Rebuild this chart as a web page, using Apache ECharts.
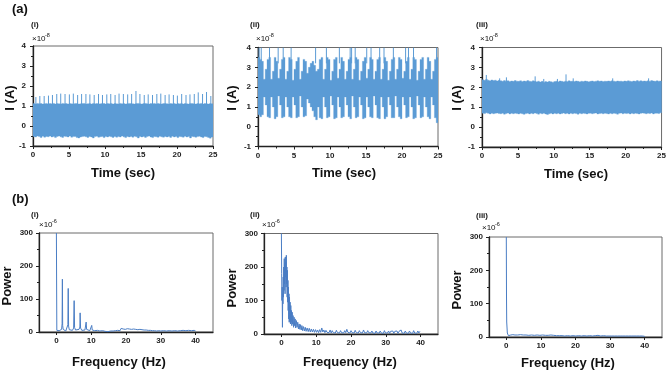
<!DOCTYPE html>
<html><head><meta charset="utf-8">
<script src="https://cdn.jsdelivr.net/npm/echarts@6/dist/echarts.min.js"></script>
<style>html,body{margin:0;padding:0;background:#fff}#c{width:669px;height:373px}</style>
</head><body><div id="c"></div>
<script>
// ---------- DATA ----------
const BIN = 0.25; // seconds per envelope bin
const timeTicks = [0, 5, 10, 15, 20, 25];
const freqTicks = [0, 10, 20, 30, 40];
const currentTicks = [-1, 0, 1, 2, 3, 4];
const powerTicks = [0, 100, 200, 300];

// (a)(i) envelope (x1e-8 A)
const hiA1 = [1.12,1.10,1.13,1.11,1.12,1.10,1.11,1.13,1.10,1.12,
1.11,1.13,1.10,1.12,1.11,1.10,1.13,1.11,1.12,1.10,
1.12,1.11,1.10,1.13,1.12,1.10,1.11,1.12,1.13,1.10,
1.11,1.12,1.10,1.13,1.11,1.12,1.10,1.11,1.13,1.12,
1.10,1.12,1.11,1.13,1.10,1.12,1.11,1.10,1.13,1.11,
1.12,1.10,1.11,1.13,1.12,1.11,1.10,1.12,1.13,1.11,
1.10,1.12,1.13,1.11,1.10,1.12,1.11,1.13,1.10,1.12,
1.11,1.10,1.12,1.13,1.11,1.10,1.12,1.11,1.13,1.10,
1.12,1.11,1.13,1.10,1.12,1.11,1.10,1.13,1.12,1.11,
1.10,1.12,1.11,1.13,1.10,1.12,1.11,1.10,1.12,1.11];
const loA1 = [-0.52,-0.55,-0.50,-0.53,-0.58,-0.51,-0.56,-0.52,-0.54,-0.50,
-0.55,-0.53,-0.58,-0.52,-0.50,-0.54,-0.57,-0.51,-0.53,-0.55,
-0.50,-0.56,-0.53,-0.52,-0.58,-0.60,-0.55,-0.53,-0.51,-0.54,
-0.57,-0.52,-0.55,-0.60,-0.53,-0.51,-0.56,-0.54,-0.52,-0.58,
-0.53,-0.55,-0.51,-0.54,-0.57,-0.52,-0.56,-0.53,-0.55,-0.50,
-0.54,-0.58,-0.52,-0.55,-0.53,-0.56,-0.51,-0.54,-0.60,-0.52,
-0.55,-0.52,-0.57,-0.53,-0.50,-0.55,-0.58,-0.52,-0.54,-0.56,
-0.51,-0.54,-0.56,-0.52,-0.55,-0.53,-0.57,-0.51,-0.55,-0.53,
-0.58,-0.52,-0.54,-0.56,-0.51,-0.55,-0.53,-0.60,-0.52,-0.54,
-0.56,-0.53,-0.51,-0.55,-0.58,-0.52,-0.54,-0.57,-0.61,-0.55];
const spikeTA1 = [0.4,0.95,1.55,2.15,2.7,3.3,3.85,4.45,5.05,5.6,6.2,6.75,7.35,7.9,8.5,9.1,9.65,10.25,10.8,11.4,11.95,12.55,13.15,13.7,14.3,14.85,15.45,16.0,16.6,17.2,17.75,18.35,18.9,19.5,20.05,20.65,21.25,21.8,22.4,22.95,23.55,24.1,24.7];
const spikeHA1 = [1.45,1.5,1.5,1.52,1.55,1.6,1.62,1.6,1.58,1.62,1.55,1.6,1.6,1.58,1.55,1.6,1.55,1.58,1.6,1.55,1.62,1.6,1.58,1.6,1.75,1.6,1.55,1.58,1.55,1.6,1.62,1.55,1.58,1.55,1.52,1.6,1.55,1.58,1.6,1.68,1.6,1.7,1.5];

// (a)(ii) envelope
const hiA2 = [3.5,3.4,3.3,2.4, 2.9,3.4,3.5,2.4, 2.8,3.5,3.3,2.45, 2.9,3.4,3.5,2.4, 2.8,3.5,3.4,2.35,
2.9,3.3,3.5,2.4, 2.8,3.4,3.3,2.7, 3.0,3.2,3.3,3.1, 2.8,2.9,3.4,3.5, 2.4,2.9,3.5,3.4,
2.35,2.8,3.4,3.5, 2.45,2.9,3.5,3.3, 2.4,2.8,3.4,3.5, 2.4,2.9,3.5,3.4, 2.35,2.8,3.3,3.5,
2.45,2.9,3.5,3.4, 2.4,2.8,3.4,3.5, 2.4,2.9,3.5,3.3, 2.35,2.8,3.4,3.5, 2.4,2.9,3.5,3.4,
2.45,2.8,3.3,3.5, 2.4,2.9,3.5,3.4, 2.35,2.8,3.4,3.5, 2.4,2.9,3.5,3.3, 2.4,2.8,3.4,3.5];
const loA2 = [0.6,0.5,0.6,1.5, 1.1,0.5,0.45,1.5, 1.0,0.4,0.5,1.55, 1.1,0.45,0.5,1.5, 1.0,0.5,0.45,1.5,
1.1,0.45,0.5,1.55, 1.0,0.5,0.55,1.4, 1.2,1.0,0.8,0.5, 0.35,1.0,0.45,0.4, 1.5,1.0,0.45,0.5,
1.55,1.1,0.4,0.45, 1.5,1.0,0.45,0.5, 1.5,1.1,0.5,0.4, 1.55,1.0,0.45,0.5, 1.5,1.1,0.4,0.45,
1.5,1.0,0.5,0.45, 1.55,1.1,0.45,0.4, 1.5,1.0,0.4,0.5, 1.5,1.1,0.45,0.45, 1.55,1.0,0.5,0.4,
1.5,1.1,0.45,0.5, 1.5,1.0,0.4,0.45, 1.55,1.1,0.45,0.5, 1.5,1.0,0.5,0.4, 1.5,1.1,0.45,0.2];
const spikeTA2 = [0.15,0.45,1.6,2.8,3.5,4.6,8.0,9.5,11.3,12.8,13.0,13.5,15.1,15.7,16.9,17.5,18.8,20.5,20.9,21.6,24.8];
const spikeHA2 = [4,4,4,4,4,4,4,4,4,4,4,4,4,4,4,4,4,4,4,4,4];

// (a)(iii) envelope
const hiA3 = [2.38,2.35,2.40,2.36,2.33,2.37,2.34,2.36,2.32,2.35,
2.33,2.30,2.34,2.31,2.33,2.29,2.32,2.30,2.34,2.31,
2.30,2.33,2.29,2.32,2.30,2.34,2.31,2.29,2.33,2.30,
2.28,2.31,2.27,2.30,2.26,2.29,2.27,2.30,2.28,2.26,
2.29,2.31,2.28,2.32,2.30,2.28,2.31,2.29,2.33,2.30,
2.31,2.29,2.32,2.30,2.28,2.31,2.29,2.32,2.30,2.28,
2.30,2.32,2.29,2.31,2.33,2.30,2.32,2.29,2.31,2.30,
2.32,2.30,2.33,2.31,2.29,2.32,2.30,2.31,2.29,2.32,
2.30,2.33,2.31,2.29,2.32,2.30,2.34,2.31,2.33,2.30,
2.32,2.30,2.33,2.31,2.34,2.32,2.30,2.33,2.31,2.32];
const loA3 = [0.70,0.68,0.72,0.69,0.66,0.70,0.67,0.69,0.71,0.68,
0.67,0.70,0.65,0.68,0.71,0.66,0.69,0.67,0.70,0.68,
0.66,0.69,0.67,0.64,0.68,0.70,0.66,0.69,0.67,0.71,
0.68,0.65,0.69,0.67,0.70,0.66,0.63,0.67,0.69,0.66,
0.69,0.67,0.70,0.66,0.68,0.71,0.67,0.69,0.66,0.70,
0.67,0.70,0.68,0.65,0.69,0.67,0.70,0.68,0.66,0.69,
0.70,0.67,0.69,0.71,0.66,0.68,0.70,0.67,0.69,0.68,
0.66,0.69,0.67,0.70,0.68,0.65,0.69,0.71,0.67,0.70,
0.68,0.70,0.66,0.69,0.67,0.70,0.68,0.66,0.69,0.71,
0.69,0.67,0.70,0.68,0.71,0.66,0.69,0.70,0.68,0.72];
const spikeTA3 = [0.6,2.46,3.4,7.4,8.6,10.5,11.7,12.7,18.2,23.2];
const spikeHA3 = [2.62,2.45,2.5,2.55,2.42,2.42,2.65,2.45,2.45,2.45];

// (b) power spectra (x1e-6), [frequency Hz, power]
const specB1 = [[0,300],[0.12,5],[0.4,2],[0.8,4],[1.2,3],[1.5,8],[1.64,25],[1.72,160],[1.8,20],[1.95,8],[2.3,4],[2.7,3],[3.1,7],[3.3,22],[3.4,132],[3.5,18],[3.7,7],[4.1,3],[4.6,5],[4.95,12],[5.1,95],[5.22,14],[5.5,6],[6.0,3],[6.5,8],[6.75,15],[6.82,58],[6.95,12],[7.3,5],[7.8,3],[8.2,6],[8.45,10],[8.55,30],[8.68,8],[9.1,3],[9.6,4],[10.0,7],[10.15,20],[10.3,6],[10.7,2],
[11.0,4],[11.4,2],[11.8,5],[12.1,2],[12.5,3],[12.9,1],[13.3,4],[13.7,6],[14.0,2],[14.4,3],[14.8,1],[15.2,5],[15.6,3],[16.0,7],[16.3,3],[16.7,9],[17.0,4],[17.3,10],[17.6,5],[18.0,8],[18.3,4],[18.6,11],[18.9,5],[19.2,9],[19.5,4],[19.8,8],[20.1,5],[20.4,10],[20.7,4],[21.0,9],[21.3,5],[21.6,8],[21.9,4],[22.2,9],[22.5,5],[22.8,8],[23.1,4],[23.4,7],[23.7,3],[24.0,8],[24.3,4],[24.6,7],[24.9,3],[25.2,6],[25.5,3],[25.8,6],[26.1,2],[26.4,5],[26.7,3],[27.0,5],[27.3,2],[27.6,4],[27.9,2],[28.2,4],[28.5,1],[28.8,3],[29.1,2],[29.4,4],[29.7,1],[30.0,3],[30.4,2],[30.8,4],[31.2,1],[31.6,3],[32.0,2],[32.4,4],[32.8,1],[33.2,3],[33.6,2],[34.0,4],[34.4,1],[34.8,3],[35.2,2],[35.6,4],[36.0,2],[36.4,5],[36.8,2],[37.2,4],[37.6,2],[38.0,5],[38.4,2],[38.8,4],[39.2,2],[39.6,5],[40.0,3]];
const specB2 = [[0,300],[0.08,180],[0.15,100],[0.22,140],[0.3,20],[0.38,120],[0.45,90],[0.52,170],[0.6,110],[0.68,200],[0.75,130],[0.82,225],[0.9,150],[0.97,210],[1.05,120],[1.12,230],[1.2,170],[1.28,215],[1.35,140],[1.42,235],[1.5,150],[1.58,200],[1.65,110],[1.72,190],[1.8,95],[1.88,160],[1.95,70],[2.03,140],[2.1,45],[2.18,120],[2.25,35],[2.33,110],[2.4,40],[2.5,95],[2.6,30],[2.7,85],[2.8,35],[2.9,70],[3.0,25],[3.1,65],[3.2,30],[3.35,55],[3.5,20],[3.65,50],[3.8,25],[3.95,45],[4.1,18],[4.3,40],[4.5,20],[4.7,35],[4.9,15],[5.1,30],[5.3,14],[5.5,28],[5.7,12],[5.9,25],[6.1,10],[6.35,22],[6.6,9],[6.85,20],[7.1,8],[7.4,18],[7.7,7],[8.0,17],[8.3,6],[8.6,15],[8.9,6],[9.2,14],[9.5,5],[9.8,13],[10.1,5],[10.4,12],[10.7,4],[11.0,13],[11.3,5],[11.6,18],[11.9,6],[12.2,12],[12.5,4],[12.8,11],[13.1,5],[13.4,10],[13.7,4],[14.0,12],[14.3,3],[14.6,10],[14.9,4],[15.2,9],[15.5,3],[15.8,11],[16.1,4],[16.4,9],[16.7,3],[17.0,10],[17.3,4],[17.6,9],[17.9,3],[18.2,10],[18.5,4],[18.8,14],[19.1,5],[19.4,9],[19.7,3],[20.0,10],[20.3,4],[20.6,9],[20.9,3],[21.2,11],[21.5,4],[21.8,9],[22.1,3],[22.4,10],[22.7,4],[23.0,9],[23.3,3],[23.6,12],[23.9,4],[24.2,9],[24.5,3],[24.8,10],[25.1,4],[25.4,8],[25.7,3],[26.0,9],[26.3,3],[26.6,8],[26.9,2],[27.2,9],[27.5,3],[27.8,8],[28.1,3],[28.4,9],[28.7,3],[29.0,8],[29.3,2],[29.6,10],[29.9,3],[30.2,8],[30.5,3],[30.8,9],[31.1,2],[31.4,8],[31.7,3],[32.0,9],[32.3,2],[32.6,8],[32.9,3],[33.2,9],[33.5,2],[33.8,8],[34.1,3],[34.4,12],[34.7,3],[35.0,8],[35.3,2],[35.6,9],[35.9,3],[36.2,8],[36.5,2],[36.8,9],[37.1,3],[37.4,8],[37.7,2],[38.0,10],[38.3,3],[38.6,8],[38.9,2],[39.2,9],[39.5,3],[39.8,8],[40.0,4]];
const specB3 = [[0,300],[0.06,120],[0.12,45],[0.2,30],[0.3,12],[0.45,6],[0.6,4],[0.8,7],[1.0,3],[1.3,6],[1.6,3],[1.9,7],[2.2,3],[2.5,6],[2.9,2],[3.3,6],[3.7,3],[4.1,7],[4.5,3],[4.9,6],[5.3,2],[5.7,6],[6.1,3],[6.5,5],[6.9,2],[7.3,6],[7.7,3],[8.1,5],[8.5,2],[8.9,6],[9.3,3],[9.7,5],[10.1,2],[10.5,6],[10.9,3],[11.3,5],[11.7,2],[12.1,5],[12.5,3],[12.9,6],[13.3,2],[13.7,5],[14.1,2],[14.5,4],[14.9,2],[15.3,4],[15.7,1],[16.1,4],[16.5,2],[16.9,3],[17.3,1],[17.7,4],[18.1,2],[18.5,3],[18.9,1],[19.3,4],[19.7,2],[20.1,3],[20.5,1],[20.9,4],[21.3,2],[21.7,3],[22.1,1],[22.5,4],[22.9,2],[23.3,3],[23.7,1],[24.1,4],[24.5,2],[24.9,3],[25.3,1],[25.7,4],[26.1,2],[26.5,5],[26.9,1],[27.3,3],[27.7,2],[28.1,4],[28.5,1],[28.9,3],[29.3,2],[29.7,3],[30.1,1],[30.5,3],[30.9,2],[31.3,3],[31.7,1],[32.1,3],[32.5,2],[32.9,3],[33.3,1],[33.7,3],[34.1,2],[34.5,3],[34.9,1],[35.3,3],[35.7,2],[36.1,3],[36.5,1],[36.9,3],[37.3,2],[37.7,3],[38.1,1],[38.5,3],[38.9,2],[39.3,3],[39.7,1],[40.0,2]];

// ---------- STYLE / LAYOUT ----------
const FILL = '#5b9bd5';
const LINE = '#4a7dc4';
const FONT = 'Arial, "Liberation Sans", sans-serif';
const grids = [
  {left:33, top:46, width:180, height:100},
  {left:258, top:47.5, width:180, height:99},
  {left:482, top:47.5, width:180, height:99.5},
  {left:39, top:233, width:174, height:99},
  {left:264, top:233.5, width:174, height:100.5},
  {left:489, top:237, width:173, height:100}
].map(g => Object.assign({show:true, borderColor:'#6b6b6b', borderWidth:1, backgroundColor:'transparent'}, g));

const axisCommon = {
  axisLine:{show:true, onZero:false, lineStyle:{color:'#222', width:1.3}},
  axisTick:{show:true, inside:false, length:3, lineStyle:{color:'#222', width:1}},
  minorTick:{show:true, splitNumber:2, length:2, lineStyle:{color:'#222', width:1}},
  splitLine:{show:false},
  axisLabel:{fontFamily:FONT, fontSize:8, fontWeight:'bold', color:'#222'}
};
function merge(a,b){return JSON.parse(JSON.stringify(Object.assign({}, a, b)));}

const xAxes = [], yAxes = [];
for (let i=0;i<3;i++){
  const x = merge(axisCommon, {type:'value', gridIndex:i, min:timeTicks[0], max:timeTicks[timeTicks.length-1], interval:5});
  x.axisLabel.margin = 5;
  xAxes.push(x);
  const y = merge(axisCommon, {type:'value', gridIndex:i, min:currentTicks[0], max:currentTicks[currentTicks.length-1], interval:1});
  y.axisLabel.margin = 7;
  yAxes.push(y);
}
for (let i=3;i<6;i++){
  const x = merge(axisCommon, {type:'value', gridIndex:i, min:-5, max:45});
  x.axisLabel.customValues = freqTicks; x.axisLabel.margin = 5;
  x.axisTick.customValues = freqTicks;
  x.minorTick.show = false;
  xAxes.push(x);
  const y = merge(axisCommon, {type:'value', gridIndex:i, min:powerTicks[0], max:powerTicks[powerTicks.length-1], interval:100});
  y.axisLabel.margin = 6;
  yAxes.push(y);
}

// whole envelope drawn as one stepped polygon (no seams between bins)
function bandRender(params, api){
  if (params.dataIndexInside !== 0) return null;
  const n = params.dataInsideLength;
  const top = [], bot = [];
  for (let k=0;k<n;k++){
    const t = api.value(0,k), lo = api.value(1,k), hi = api.value(2,k);
    top.push(api.coord([t, hi]), api.coord([t+BIN, hi]));
    bot.push(api.coord([t, lo]), api.coord([t+BIN, lo]));
  }
  return {type:'polygon', shape:{points: top.concat(bot.reverse())}, style:{fill:FILL, stroke:FILL, lineWidth:0.3}};
}
function spikeRender(params, api){
  const t = api.value(0), base = api.value(1), top = api.value(2);
  const a = api.coord([t, base]);
  const b = api.coord([t, top]);
  return {type:'line', shape:{x1:a[0], y1:a[1], x2:b[0], y2:b[1]}, style:{stroke:FILL, lineWidth:1}};
}
function bandData(hi, lo){ return hi.map((h,k)=>[k*BIN, lo[k], h]); }
function spikeData(ts, hs, base){ return ts.map((t,k)=>[t, base, hs[k]]); }

const series = [];
[[hiA1,loA1,spikeTA1,spikeHA1,1.0],[hiA2,loA2,spikeTA2,spikeHA2,3.2],[hiA3,loA3,spikeTA3,spikeHA3,2.2]].forEach((d,i)=>{
  series.push({type:'custom', xAxisIndex:i, yAxisIndex:i, clip:true, silent:true, renderItem:bandRender, encode:{x:0, y:[1,2]}, data:bandData(d[0], d[1])});
  series.push({type:'custom', xAxisIndex:i, yAxisIndex:i, clip:true, silent:true, renderItem:spikeRender, encode:{x:0, y:[1,2]}, data:spikeData(d[2], d[3], d[4])});
});
[specB1, specB2, specB3].forEach((d,k)=>{
  series.push({type:'line', xAxisIndex:3+k, yAxisIndex:3+k, clip:true, silent:true, showSymbol:false, symbol:'none', lineStyle:{color:LINE, width:1}, data:d});
});

// ---------- TEXT ----------
function txt(text, x, y, size, opts){
  opts = opts || {};
  return {type:'text', x:x, y:y, rotation:opts.rot||0, silent:true,
    style:{text:text, font:(opts.weight||'bold')+' '+size+'px '+FONT, fill:'#111',
      align:opts.align||'left', verticalAlign:'middle'}};
}
const R = Math.PI/2;
const graphics = [
  txt('(a)', 12, 9, 13), txt('(b)', 12, 199, 13),
  txt('(i)', 31, 24.5, 8), txt('(ii)', 250, 24.5, 8), txt('(iii)', 476, 24.5, 8),
  txt('(i)', 31, 214.5, 8), txt('(ii)', 250, 214.5, 8), txt('(iii)', 476, 215.5, 8),
  txt('×10', 32, 38.5, 8, {weight:'normal'}), txt('-8', 45, 35, 5.5, {weight:'normal'}),
  txt('×10', 256, 39, 8, {weight:'normal'}), txt('-8', 269, 35.5, 5.5, {weight:'normal'}),
  txt('×10', 480, 39, 8, {weight:'normal'}), txt('-8', 493, 35.5, 5.5, {weight:'normal'}),
  txt('×10', 39, 224.5, 8, {weight:'normal'}), txt('-6', 52, 221, 5.5, {weight:'normal'}),
  txt('×10', 262, 225, 8, {weight:'normal'}), txt('-6', 275, 221.5, 5.5, {weight:'normal'}),
  txt('×10', 482, 228, 8, {weight:'normal'}), txt('-6', 495, 224.5, 5.5, {weight:'normal'}),
  txt('I (A)', 10, 98, 13, {rot:R, align:'center'}),
  txt('I (A)', 232, 98, 13, {rot:R, align:'center'}),
  txt('I (A)', 457, 98, 13, {rot:R, align:'center'}),
  txt('Time (sec)', 123, 173, 13, {align:'center'}),
  txt('Time (sec)', 344, 173, 13, {align:'center'}),
  txt('Time (sec)', 576, 174, 13, {align:'center'}),
  txt('Power', 7, 286, 13, {rot:R, align:'center'}),
  txt('Power', 232, 288, 13, {rot:R, align:'center'}),
  txt('Power', 457, 290, 13, {rot:R, align:'center'}),
  txt('Frequency (Hz)', 119, 362, 13, {align:'center'}),
  txt('Frequency (Hz)', 350, 362, 13, {align:'center'}),
  txt('Frequency (Hz)', 568, 363, 13, {align:'center'})
];

const chart = echarts.init(document.getElementById('c'), null, {renderer:'canvas'});
chart.setOption({
  animation:false,
  backgroundColor:'#fff',
  grid:grids, xAxis:xAxes, yAxis:yAxes, series:series, graphic:graphics
});
</script></body></html>
